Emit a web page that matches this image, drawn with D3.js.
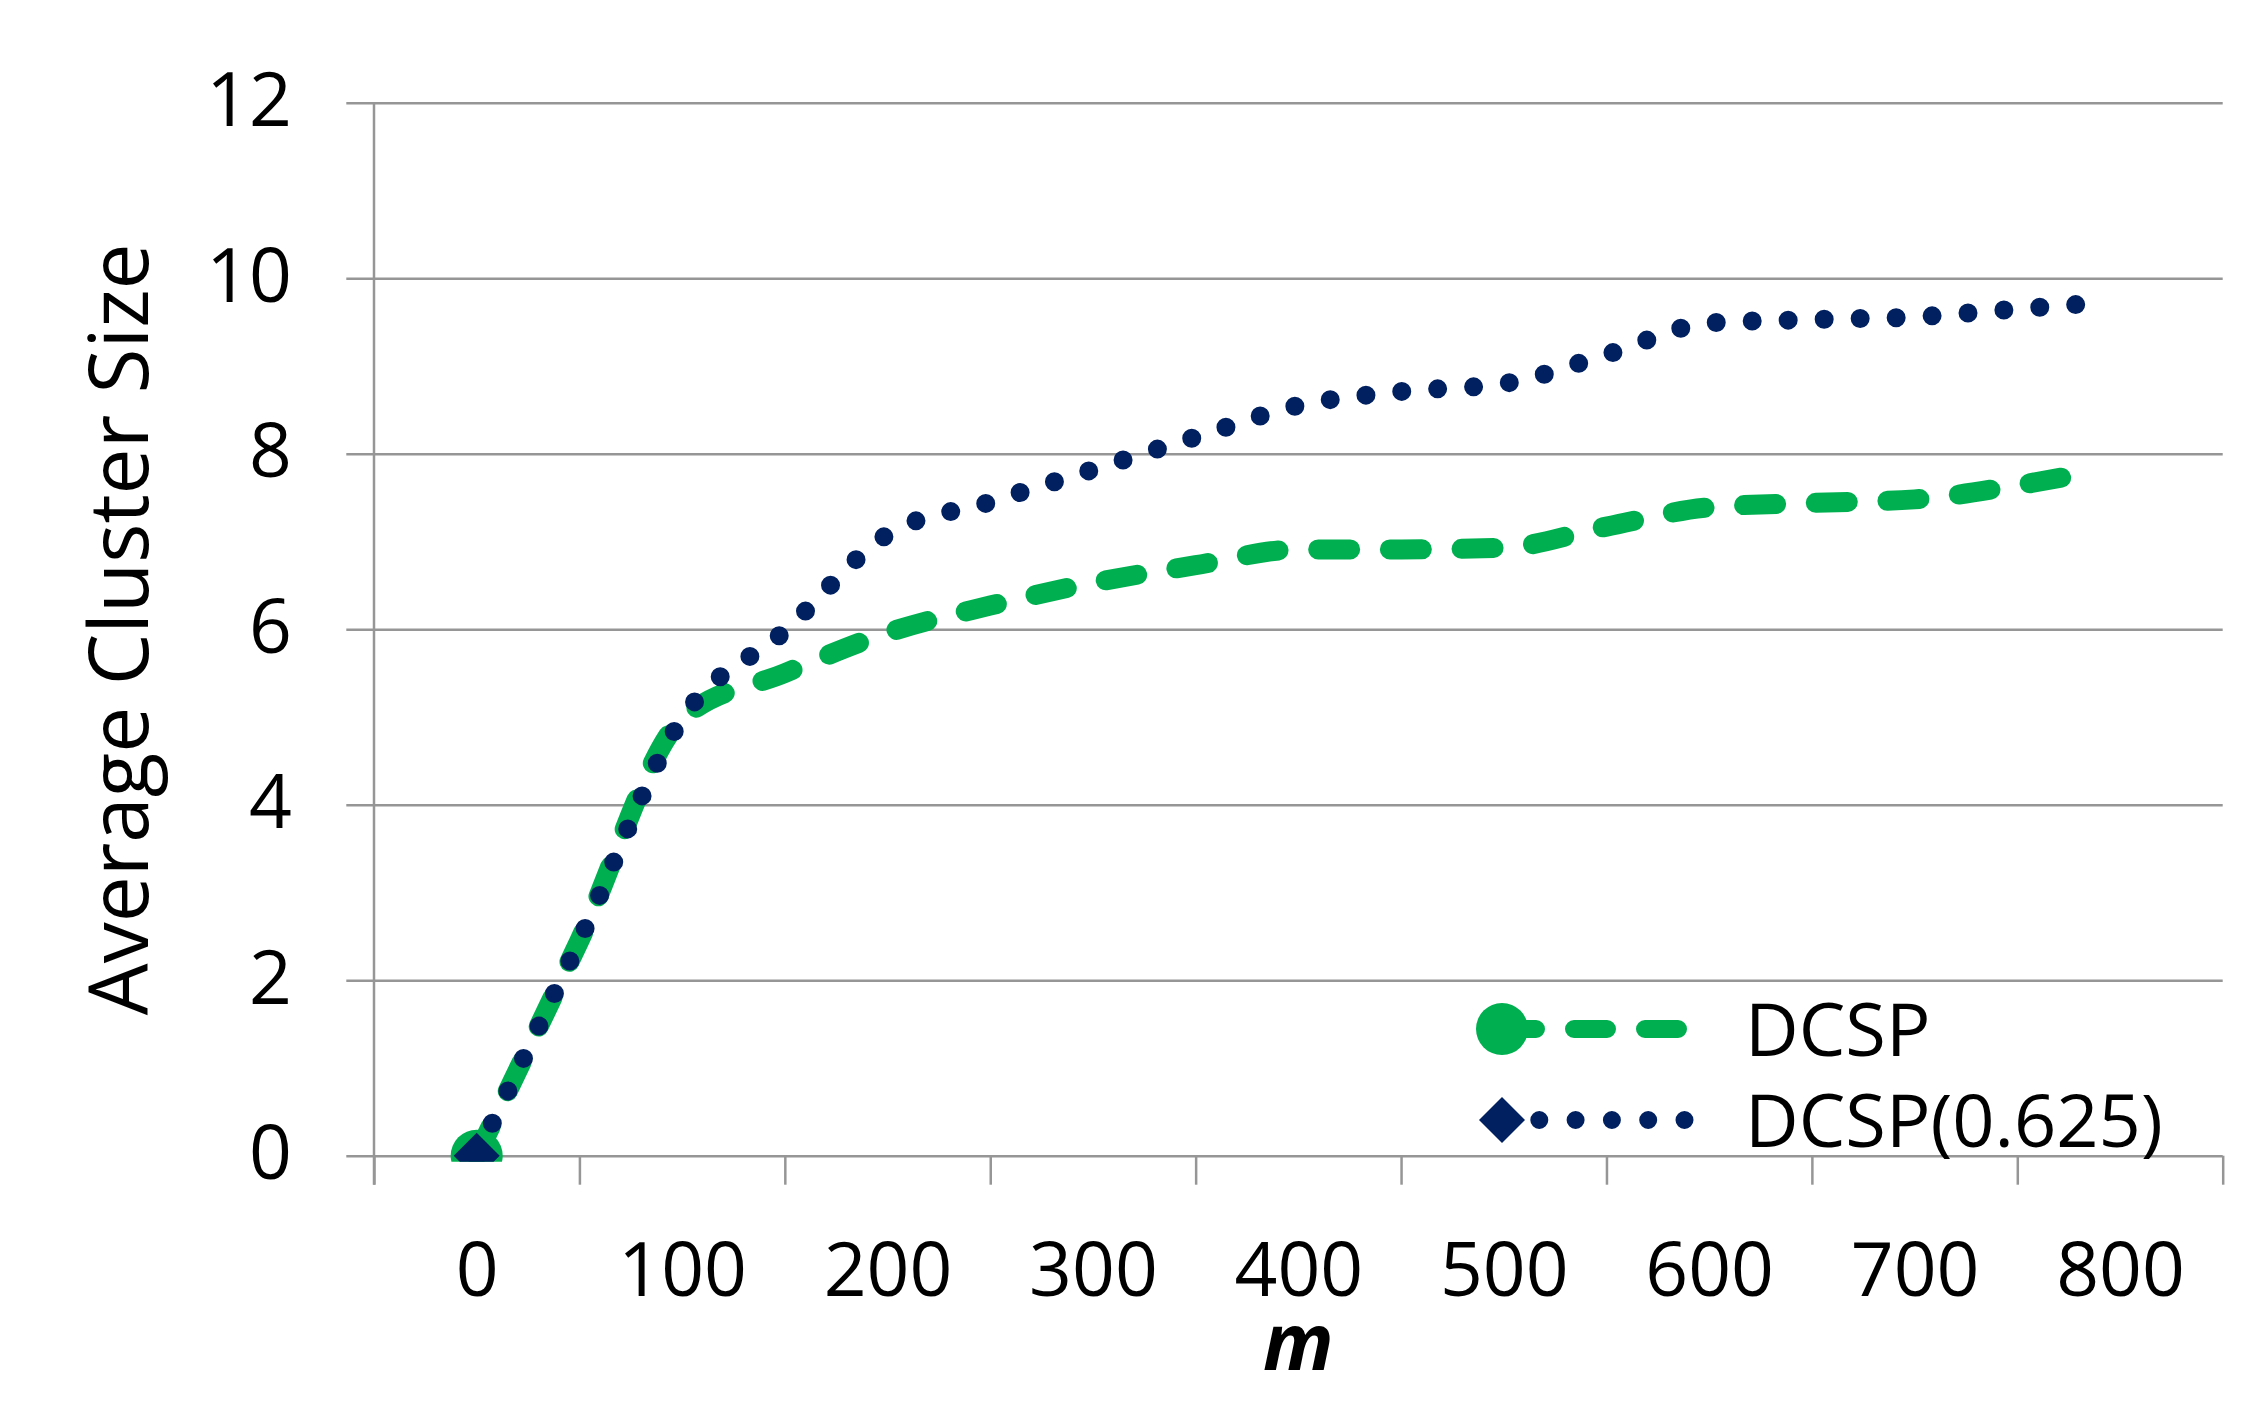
<!DOCTYPE html>
<html>
<head>
<meta charset="utf-8">
<script src="https://cdn.jsdelivr.net/npm/d3@7"></script>
<style>
  html, body { margin: 0; padding: 0; background: #fff; }
  text { font-family: "Open Sans", "DejaVu Sans", sans-serif; fill: #000; }
</style>
</head>
<body>
<svg id="chartSvg" width="2252" height="1406"></svg>
<script>
// data
const mValues = [0, 50, 100, 150, 200, 250, 300, 350, 400, 450, 500, 550, 600, 650, 700, 750, 790];
const dcspValues = [0, 2.45, 4.98, 5.5, 5.96, 6.27, 6.53, 6.73, 6.91, 6.91, 6.93, 7.17, 7.39, 7.44, 7.48, 7.64, 7.81];
const dcsp625Values = [0, 2.45, 4.98, 5.98, 7.08, 7.45, 7.82, 8.19, 8.55, 8.71, 8.8, 9.13, 9.49, 9.53, 9.56, 9.65, 9.72];
const xLabelValues = [0, 100, 200, 300, 400, 500, 600, 700, 800];
const xTickValues = [-50, 50, 150, 250, 350, 450, 550, 650, 750, 850];
const yTickValues = [0, 2, 4, 6, 8, 10, 12];
const seriesNames = ["DCSP", "DCSP(0.625)"];

const colors = { green: "#00b050", navy: "#002060", grid: "#969696" };

const plot = { left: 374, right: 2222.7, top: 102.8, bottom: 1155.7 };

const svg = d3.select("#chartSvg");
svg.append("rect").attr("width", 2252).attr("height", 1406).attr("fill", "#fff");

const xScale = d3.scaleLinear().domain([-50, 850]).range([plot.left, plot.right]);
const yScale = d3.scaleLinear().domain([0, 12]).range([plot.bottom, plot.top]);

// gridlines (stick out a little left of the y axis like tick marks)
const gridGroup = svg.append("g")
  .attr("transform", `translate(${plot.left - 27.7},0)`)
  .call(d3.axisRight(yScale).tickValues(yTickValues).tickSize(plot.right - plot.left + 27.7).tickFormat(""));
gridGroup.select(".domain").remove();
gridGroup.selectAll("line").attr("stroke", colors.grid).attr("stroke-width", 2.5);

// y tick labels
const yLabelGroup = svg.append("g")
  .attr("transform", `translate(${plot.left},0)`)
  .call(d3.axisLeft(yScale).tickValues(yTickValues).tickSize(0).tickPadding(82));
yLabelGroup.select(".domain").remove();
yLabelGroup.selectAll("text")
  .attr("font-size", 75)
  .attr("dy", 23)
  .style("font-family", "'Open Sans', sans-serif");

// x tick marks
const xTickGroup = svg.append("g")
  .attr("transform", `translate(0,${plot.bottom})`)
  .call(d3.axisBottom(xScale).tickValues(xTickValues).tickSize(29).tickFormat(""));
xTickGroup.select(".domain").remove();
xTickGroup.selectAll("line").attr("stroke", colors.grid).attr("stroke-width", 2.5);

// x labels
const xLabelGroup = svg.append("g")
  .attr("transform", `translate(0,${plot.bottom})`)
  .call(d3.axisBottom(xScale).tickValues(xLabelValues).tickSize(0));
xLabelGroup.select(".domain").remove();
xLabelGroup.selectAll("text")
  .attr("y", 140)
  .attr("dy", 0)
  .attr("font-size", 75)
  .style("font-family", "'Open Sans', sans-serif");

// y axis line
svg.append("line")
  .attr("x1", plot.left).attr("x2", plot.left)
  .attr("y1", plot.top).attr("y2", plot.bottom + 29)
  .attr("stroke", colors.grid).attr("stroke-width", 2.5);

// axis titles
svg.append("text")
  .attr("transform", `translate(148,${(plot.top + plot.bottom) / 2}) rotate(-90)`)
  .attr("text-anchor", "middle")
  .attr("font-size", 82)
  .text("Average Cluster Size");

svg.append("text")
  .attr("x", (plot.left + plot.right) / 2)
  .attr("y", 1370)
  .attr("text-anchor", "middle")
  .attr("font-size", 78)
  .attr("font-weight", "bold")
  .attr("font-style", "italic")
  .text("m");

// clip so the first markers are cut at the axis like the original
svg.append("clipPath").attr("id", "plotClip")
  .append("rect")
  .attr("x", plot.left).attr("y", plot.top - 20)
  .attr("width", plot.right - plot.left).attr("height", plot.bottom - plot.top + 26);

const plotArea = svg.append("g").attr("clip-path", "url(#plotClip)");

const greenData = mValues.map((m, i) => ({ m: m, v: dcspValues[i] }));
const navyData = mValues.map((m, i) => ({ m: m, v: dcsp625Values[i] }));

const line = d3.line()
  .x(d => xScale(d.m))
  .y(d => yScale(d.v))
  .curve(d3.curveMonotoneX);

plotArea.append("path")
  .datum(greenData)
  .attr("d", line)
  .attr("fill", "none")
  .attr("stroke", colors.green)
  .attr("stroke-width", 20)
  .attr("stroke-linecap", "round")
  .attr("stroke-dasharray", "32 39.7");

plotArea.append("path")
  .datum(navyData)
  .attr("d", line)
  .attr("fill", "none")
  .attr("stroke", colors.navy)
  .attr("stroke-width", 19)
  .attr("stroke-linecap", "round")
  .attr("stroke-dasharray", "0 36");

// markers only on the first point
plotArea.append("circle")
  .attr("cx", xScale(greenData[0].m))
  .attr("cy", yScale(greenData[0].v))
  .attr("r", 26)
  .attr("fill", colors.green);

plotArea.append("path")
  .attr("d", d3.symbol().type(d3.symbolDiamond2).size(2 * 26 * 26)())
  .attr("transform", `translate(${xScale(navyData[0].m)},${yScale(navyData[0].v)})`)
  .attr("fill", colors.navy);

// legend
const legend = svg.append("g");
const legendRows = [
  { name: seriesNames[0], y: 1029, color: colors.green, dash: "33 38", width: 18 },
  { name: seriesNames[1], y: 1120, color: colors.navy, dash: "0 36.3", width: 18 }
];

legendRows.forEach((row, i) => {
  legend.append("line")
    .attr("x1", 1503).attr("x2", i === 0 ? 1682 : 1685)
    .attr("y1", row.y).attr("y2", row.y)
    .attr("stroke", row.color)
    .attr("stroke-width", row.width)
    .attr("stroke-linecap", "round")
    .attr("stroke-dasharray", row.dash);

  if (i === 0) {
    legend.append("circle")
      .attr("cx", 1502).attr("cy", row.y).attr("r", 26)
      .attr("fill", row.color);
  } else {
    legend.append("path")
      .attr("d", d3.symbol().type(d3.symbolDiamond2).size(2 * 26 * 26)())
      .attr("transform", `translate(1502,${row.y})`)
      .attr("fill", row.color);
  }

  legend.append("text")
    .attr("x", 1745)
    .attr("y", row.y + 27)
    .attr("font-size", 74)
    .text(row.name);
});
</script>
</body>
</html>
